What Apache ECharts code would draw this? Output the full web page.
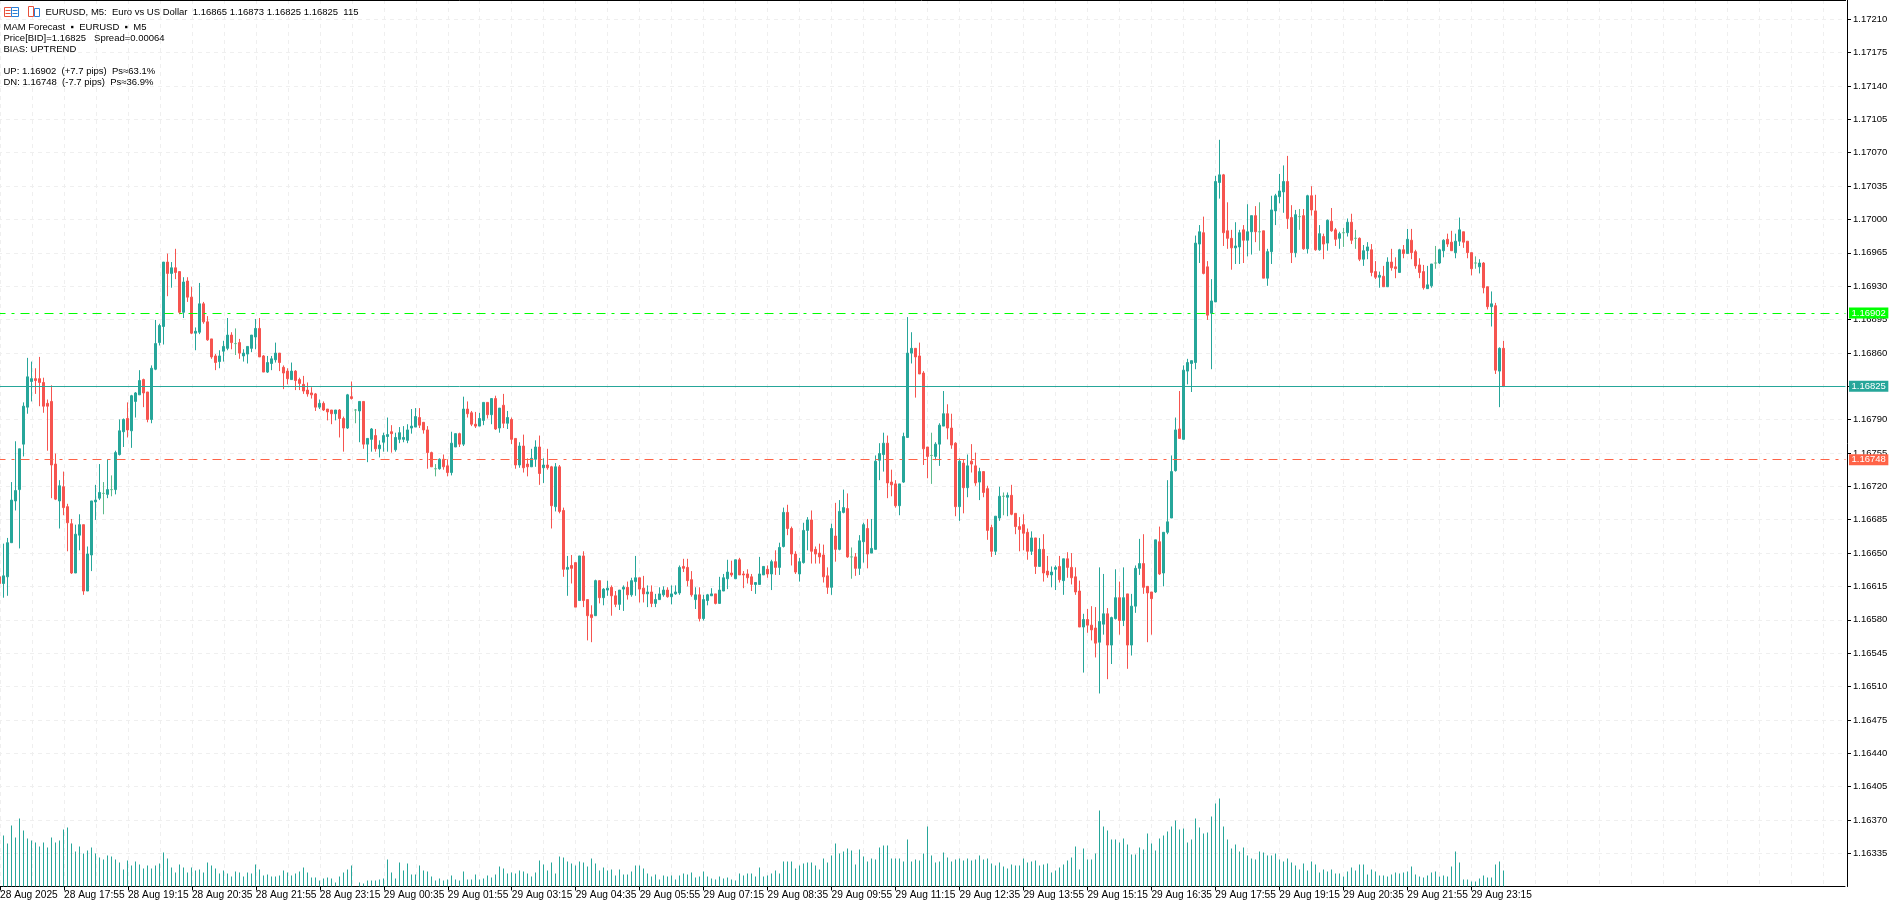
<!DOCTYPE html>
<html>
<head>
<meta charset="utf-8">
<style>html,body{margin:0;padding:0;background:#fff;overflow:hidden}#c{position:absolute;left:-3px;top:0;width:1904px;height:905px}</style>
<script src="https://cdn.jsdelivr.net/npm/echarts@6/dist/echarts.min.js"></script>
</head>
<body>
<div id="c"></div>
<script>
// Prices are read as points above 1.16000 (1 point = 0.00001).
const opens = [
624,617,624,660,704,716,764,803,830,833,
833,829,807,809,743,704,719,698,680,628,
668,679,609,647,703,707,712,711,716,716,
753,777,791,778,809,816,832,819,790,843,
871,888,956,944,950,946,903,936,919,881,
882,912,893,875,857,851,862,865,879,870,
871,857,859,865,877,886,857,840,849,853,
860,845,841,832,841,832,827,821,818,817,
803,807,801,800,796,800,791,781,814,800,
799,809,764,769,773,759,766,772,777,758,
769,769,768,781,782,792,787,779,755,738,
738,748,741,734,761,775,764,801,797,785,
783,789,808,795,812,781,805,786,790,770,
742,762,743,740,748,761,739,742,740,698,
740,694,632,636,639,599,646,600,584,583,
620,602,610,613,604,595,611,613,605,619,
623,612,606,608,596,600,605,610,603,606,
607,635,634,621,600,605,580,599,604,606,
596,609,622,628,622,642,627,627,624,616,
616,626,632,627,640,634,656,692,675,648,
627,639,673,684,653,649,647,625,613,667,
653,692,696,645,645,633,661,675,649,653,
747,753,765,724,722,699,724,771,860,865,
857,839,761,752,751,764,783,796,781,765,
698,744,718,746,741,724,735,717,676,651,
686,709,708,710,691,677,679,671,651,665,
635,653,630,626,632,635,620,643,634,624,
609,571,579,573,570,555,574,585,552,580,
602,578,606,552,593,633,638,614,608,608,
661,628,671,686,736,780,769,841,849,850,
975,987,951,902,914,1040,1048,989,981,971,
972,990,979,988,1005,988,989,939,967,1010,
1025,1030,1041,1003,966,1004,1005,970,1026,1010,
969,983,976,999,990,981,987,987,998,981,
981,959,968,969,946,940,941,930,956,951,
945,969,965,979,967,953,946,928,931,955,
955,968,980,977,966,978,988,978,966,955,
951,955,930,909,910,841,865];
const closes = [
617,625,660,705,715,759,804,835,833,831,
829,804,804,742,706,720,697,681,628,669,
679,609,648,704,705,713,712,716,716,755,
778,790,779,815,818,831,818,790,844,870,
889,956,944,950,945,903,935,919,881,883,
912,893,874,856,850,857,867,879,871,870,
860,860,867,879,886,856,840,850,854,860,
850,839,833,841,831,828,820,817,816,803,
807,800,798,796,800,791,781,816,812,800,
809,764,770,780,759,763,773,774,775,771,
776,771,779,783,793,784,779,755,740,738,
748,740,734,765,775,764,801,796,785,783,
791,808,795,812,780,802,786,792,769,742,
762,739,740,749,761,733,742,739,699,740,
693,632,634,633,592,646,599,583,581,620,
602,611,612,604,595,610,613,605,620,623,
611,606,608,596,600,606,610,603,606,608,
634,633,620,605,605,580,600,605,606,596,
610,623,629,626,642,626,626,623,616,618,
627,635,627,640,634,655,692,675,648,629,
640,673,684,651,648,645,624,613,675,653,
693,697,645,645,633,662,679,648,654,746,
754,765,723,721,699,722,772,860,865,856,
838,759,751,752,764,784,796,781,763,698,
746,718,741,743,723,735,713,673,651,688,
709,709,710,690,677,674,670,651,665,635,
653,628,626,629,634,621,643,634,623,608,
571,579,573,568,554,577,585,552,581,602,
578,602,552,593,633,638,613,607,601,663,
627,671,682,735,779,770,842,850,852,976,
988,944,900,915,1041,1048,987,981,971,973,
987,979,988,1005,988,988,939,967,1011,1026,
1031,1041,1002,966,1006,1004,970,1026,1011,969,
986,975,1000,989,980,986,987,998,979,981,
959,968,972,945,940,942,930,956,950,949,
969,965,980,966,952,945,929,932,954,955,
969,979,975,968,978,990,977,966,949,955,
955,929,909,912,842,865,825];
const highs = [
626,659,665,724,767,759,808,855,851,844,
856,834,811,826,754,726,735,701,685,679,
690,679,656,704,721,743,724,748,731,757,
790,791,808,816,819,842,833,819,847,895,
891,956,965,956,970,946,940,940,930,887,
934,914,899,875,859,863,873,897,882,886,
875,864,867,879,896,897,858,857,857,871,
860,847,844,850,842,834,836,829,824,818,
811,809,801,800,800,801,793,817,830,801,
809,809,770,781,780,768,776,792,784,776,
782,783,785,801,802,802,787,783,756,743,
749,753,748,777,775,776,814,809,799,798,
797,808,808,812,815,802,817,799,792,770,
766,774,749,759,768,773,749,759,741,744,
742,697,646,647,639,646,651,600,594,621,
620,612,620,615,609,610,615,619,623,646,
623,625,615,615,606,613,614,613,615,615,
636,643,643,630,613,613,605,606,612,606,
624,627,642,641,642,644,630,632,627,618,
645,635,636,642,652,660,697,700,677,651,
644,681,687,694,656,659,658,634,680,702,
705,716,712,655,649,668,681,685,685,752,
765,776,773,737,726,722,776,898,882,865,
871,841,761,776,766,786,820,806,796,766,
749,748,753,764,755,739,735,720,679,688,
719,713,713,721,691,687,690,675,672,665,
665,669,646,635,636,646,643,650,649,634,
620,585,590,593,592,634,627,591,582,632,
619,634,606,606,636,664,669,614,608,663,
677,671,726,752,792,820,847,854,852,984,
995,1004,957,938,1047,1085,1049,1019,990,998,
990,995,1017,1005,1015,1019,989,970,1026,1028,
1049,1058,1068,1016,1011,1012,1012,1027,1036,1027,
995,986,1001,1013,992,988,992,1002,1007,990,
982,974,977,975,957,946,952,961,970,961,
970,974,991,991,969,960,953,952,954,973,
970,980,986,989,986,1003,988,978,966,962,
959,956,930,925,913,866,873];
const lows = [
615,602,604,660,694,654,751,796,809,817,
804,797,757,707,705,675,689,651,627,628,
652,605,609,630,684,705,690,707,709,711,
752,761,771,760,792,816,803,787,786,842,
868,869,920,929,938,901,897,914,880,863,
880,891,873,854,842,844,851,863,864,858,
854,851,849,861,864,856,840,839,842,850,
841,822,827,832,821,821,817,814,812,799,
801,799,789,785,789,771,756,780,811,786,
766,759,745,756,756,750,756,756,755,756,
765,766,765,775,782,781,775,738,740,730,
737,737,730,731,761,761,762,792,783,781,
783,784,791,785,779,776,781,780,764,738,
739,734,730,740,740,721,723,737,675,693,
691,624,604,617,592,599,592,557,555,583,
596,594,604,583,592,589,588,600,603,604,
597,597,592,592,592,600,603,602,595,605,
605,629,614,603,590,577,578,594,604,595,
596,609,611,624,622,626,612,617,609,606,
616,626,623,610,626,626,655,668,636,627,
619,638,652,638,638,638,618,606,605,640,
652,691,644,622,625,626,639,633,649,653,
726,735,707,709,697,689,723,771,849,813,
838,742,728,722,747,741,783,769,759,688,
683,691,708,734,720,705,708,663,645,647,
683,689,688,689,669,651,652,642,647,627,
635,619,623,613,610,618,605,623,616,605,
571,523,565,557,539,501,563,516,532,579,
563,572,527,541,586,626,606,555,563,607,
626,614,669,686,735,770,769,827,819,843,
955,943,895,843,914,1023,973,970,948,954,
954,955,962,964,977,968,939,931,954,995,
1018,1008,991,955,961,990,969,965,1005,968,
968,959,968,988,973,970,972,983,975,970,
957,952,959,941,938,929,930,930,947,939,
945,960,965,959,949,939,927,928,929,949,
954,961,972,968,960,973,971,960,942,949,
944,923,906,888,838,803,825];
const volumes = [
50,51,43,61,49,68,56,48,46,44,40,
44,39,49,44,46,57,59,43,35,40,
33,36,39,33,29,27,31,30,27,24,
17,26,21,25,22,18,21,18,21,23,
34,28,19,14,22,19,14,19,16,17,
14,24,21,18,13,16,13,10,15,14,
10,14,13,22,17,11,12,10,10,11,
16,14,11,13,15,19,14,9,9,6,
8,9,8,4,10,14,17,21,0,4,
3,6,6,6,7,8,27,14,8,24,
16,23,12,12,21,16,15,10,6,8,
6,7,11,7,6,15,7,7,12,7,
8,11,9,12,20,18,13,14,13,16,
15,13,10,14,26,22,16,24,13,30,
29,25,23,21,25,24,20,28,23,16,
19,16,17,11,17,12,12,15,21,21,
18,13,10,12,7,11,10,11,7,11,
13,12,14,9,10,15,10,8,7,10,
8,9,7,6,13,11,13,13,10,19,
10,11,13,16,13,25,25,25,18,21,
23,24,24,21,17,28,24,31,43,33,
35,38,36,22,37,30,25,28,27,39,
41,41,28,28,28,25,47,25,27,26,
33,60,31,24,25,34,29,25,27,28,
26,28,26,27,31,27,28,23,21,24,
20,18,22,21,21,28,24,25,26,21,
22,23,14,16,19,22,26,29,40,17,
38,27,27,33,76,60,56,47,47,44,
48,42,32,32,39,37,53,43,36,48,
51,55,60,66,57,58,44,47,68,59,
53,54,70,83,88,60,47,38,42,35,
39,31,28,27,35,34,31,31,33,27,
25,28,24,21,17,23,16,25,22,14,
17,15,17,13,13,10,15,19,16,22,
22,12,17,15,11,11,10,12,14,13,
14,15,20,12,10,9,11,14,15,10,
11,10,20,35,24,7,7,5,5,8,
11,9,9,22,25,16];
const timeLabels = ['28 Aug 2025','28 Aug 17:55','28 Aug 19:15','28 Aug 20:35','28 Aug 21:55','28 Aug 23:15',
'29 Aug 00:35','29 Aug 01:55','29 Aug 03:15','29 Aug 04:35','29 Aug 05:55','29 Aug 07:15','29 Aug 08:35',
'29 Aug 09:55','29 Aug 11:15','29 Aug 12:35','29 Aug 13:55','29 Aug 15:15','29 Aug 16:35','29 Aug 17:55',
'29 Aug 19:15','29 Aug 20:35','29 Aug 21:55','29 Aug 23:15'];
const priceTicks = [1.17210,1.17175,1.17140,1.17105,1.17070,1.17035,1.17000,1.16965,1.16930,1.16895,1.16860,1.16825,
1.16790,1.16755,1.16720,1.16685,1.16650,1.16615,1.16580,1.16545,1.16510,1.16475,1.16440,1.16405,1.16370,1.16335];
const priceUp = 1.16902, priceLast = 1.16825, priceDown = 1.16748;
const infoLines = ['MAM Forecast  \u25AA  EURUSD  \u25AA  M5','Price[BID]=1.16825   Spread=0.00064','BIAS: UPTREND','UP: 1.16902  (+7.7 pips)  Ps\u224863.1%','DN: 1.16748  (-7.7 pips)  Ps\u224836.9%'];
const titleLine = 'EURUSD, M5:  Euro vs US Dollar  1.16865 1.16873 1.16825 1.16825  115';

const FONT = '"Liberation Sans",sans-serif';
const FS = 9.5;
const TEAL = '#26a69a', RED = '#f6544f', DOJI = '#5dba8c';
const SLOTS = 462, LABEL_STEP = 16, GRID_STEP = 8, OX = 3;
const price = v => +(1.16825 + (v - 825) * 0.9946 / 1e5).toFixed(6);
const categories = Array.from({length: SLOTS}, (_, i) => i % LABEL_STEP === 0 ? (timeLabels[i / LABEL_STEP] || '') : '');
const candleData = opens.map((o, i) => [price(o), price(closes[i]), price(lows[i]), price(highs[i])]);
const VOLUME_SCALE = 115 / 16;
const volumeData = volumes.map(v => v * VOLUME_SCALE);
const lastTickIndex = (timeLabels.length - 1) * LABEL_STEP;
const PLOT_H = 886.5, PRICE_MIN = 1.163002, PRICE_MAX = 1.1723025;

const txt = (text, x, y) => ({type:'text', silent:true, z:100, style:{text, x:x+OX, y, fill:'#000', font:FS+'px '+FONT, textVerticalAlign:'middle'}});
const line = (x1,y1,x2,y2,c) => ({type:'line', silent:true, z:100, shape:{x1:x1+OX,y1,x2:x2+OX,y2}, style:{stroke:c, lineWidth:1}});
const box = (x,y,width,height,c) => ({type:'rect', silent:true, z:100, shape:{x:x+OX,y,width,height}, style:{fill:'#fff', stroke:c, lineWidth:1}});
const ICON_R = '#e8503a', ICON_B = '#2a7fd6';

const markLineOf = (value, color, dashed) => ({
  yAxis: value,
  lineStyle: {color, width: 1, type: dashed ? [9,6,3,6] : 'solid', dashOffset: dashed ? 1 : 0},
  label: {show:true, position:'end', distance:3.5, formatter: () => value.toFixed(5), color:'#fff', backgroundColor:color,
          padding:[1,2.5,0,2.5], lineHeight:10, align:'left', verticalAlign:'middle', fontFamily:FONT, fontSize:FS}
});

const volumeSeries = {type:'bar', name:'Volume', xAxisIndex:0, yAxisIndex:1, data:volumeData, barWidth:1, barGap:'0%', silent:true, itemStyle:{color:TEAL}};
const padSeries = {type:'bar', name:'VolumePad', xAxisIndex:0, yAxisIndex:1, data:[], barWidth:1, barGap:'0%', silent:true};
const candleSeries = {
  type:'candlestick', name:'EURUSD', xAxisIndex:0, yAxisIndex:0, data:candleData, barWidth:2, silent:true,
  itemStyle:{color:TEAL, color0:RED, borderColor:TEAL, borderColor0:RED, borderColorDoji:DOJI, borderWidth:1},
  markLine:{silent:true, symbol:'none', animation:false, precision:6,
    data:[markLineOf(priceUp,'#00ff00',true), markLineOf(priceLast,TEAL,false), markLineOf(priceDown,'#ff6347',true)]}
};

const chart = echarts.init(document.getElementById('c'), null, {renderer:'canvas', width:1904, height:905});
const option = {
  animation:false,
  backgroundColor:'#fff',
  grid:[
    {left:0.5, top:0, width:SLOTS*4, height:PLOT_H, containLabel:false, outerBoundsMode:'none'},
    {left:0, top:0, width:SLOTS*4, height:PLOT_H, containLabel:false}
  ],
  xAxis:[{
    gridIndex:0, type:'category', data:categories, boundaryGap:true, show:false
  },{
    gridIndex:1, type:'category', data:categories, boundaryGap:true,
    axisLine:{lineStyle:{color:'#000',width:1}},
    axisTick:{show:true, alignWithLabel:true, length:4, lineStyle:{color:'#000'}, interval:(i)=> i%LABEL_STEP===0 && i<=lastTickIndex},
    axisLabel:{show:true, interval:LABEL_STEP-1, align:'left', color:'#000', fontFamily:FONT, fontSize:10.2, margin:4, showMinLabel:true, hideOverlap:false},
    splitLine:{show:true, alignWithLabel:true, interval:GRID_STEP-1, lineStyle:{color:'#efefef', type:[4,4], width:1}}
  }],
  yAxis:[{
    gridIndex:0, type:'value', show:false, min:PRICE_MIN, max:PRICE_MAX, scale:true, splitLine:{show:false}
  },{
    gridIndex:0, type:'value', show:false, min:0, max:PLOT_H*VOLUME_SCALE, splitLine:{show:false}
  },{
    gridIndex:1, type:'value', position:'right', min:PRICE_MIN, max:PRICE_MAX, offset:2, scale:true,
    axisLine:{show:true, lineStyle:{color:'#000',width:1}},
    axisTick:{show:true, length:4, lineStyle:{color:'#000'}, customValues:priceTicks},
    axisLabel:{show:true, color:'#000', fontFamily:FONT, fontSize:FS, margin:6, customValues:priceTicks, formatter:v=>v.toFixed(5), showMinLabel:true, showMaxLabel:true},
    splitLine:{show:true, lineStyle:{color:'#efefef', type:[4,4], width:1}}
  }],
  series:[volumeSeries, padSeries, candleSeries],
  graphic:{elements:[
    line(-3,0.5,1846,0.5,'#000'),
    txt(titleLine,45.5,12),
    txt(infoLines[0],3.5,27),
    txt(infoLines[1],3.5,38),
    txt(infoLines[2],3.5,49),
    txt(infoLines[3],3.5,71),
    txt(infoLines[4],3.5,82),
    box(4.5,7.5,7,9,ICON_R), box(11.5,7.5,7,9,ICON_B),
    line(5.5,10.5,10.5,10.5,ICON_R), line(5.5,13.5,10.5,13.5,ICON_R),
    line(12.5,10.5,17.5,10.5,ICON_B), line(12.5,13.5,17.5,13.5,ICON_B),
    box(28.5,6.5,5,10,ICON_R), box(34.5,8.5,5,8,ICON_B)
  ]}
};
chart.setOption(option);
// Choose bar widths to keep 1px volume bars and 3px candle bodies crisp for the band centre the grid actually got.
try {
  const c = chart.convertToPixel({xAxisIndex:0}, 1);
  if (typeof c === 'number' && isFinite(c)) {
    if (Math.abs(c - Math.round(c)) > 0.25) {
      option.series = [volumeSeries, candleSeries];
    } else {
      candleSeries.barWidth = 2.5;
    }
    chart.setOption(option, true);
  }
} catch (e) {}
</script>
</body>
</html>
